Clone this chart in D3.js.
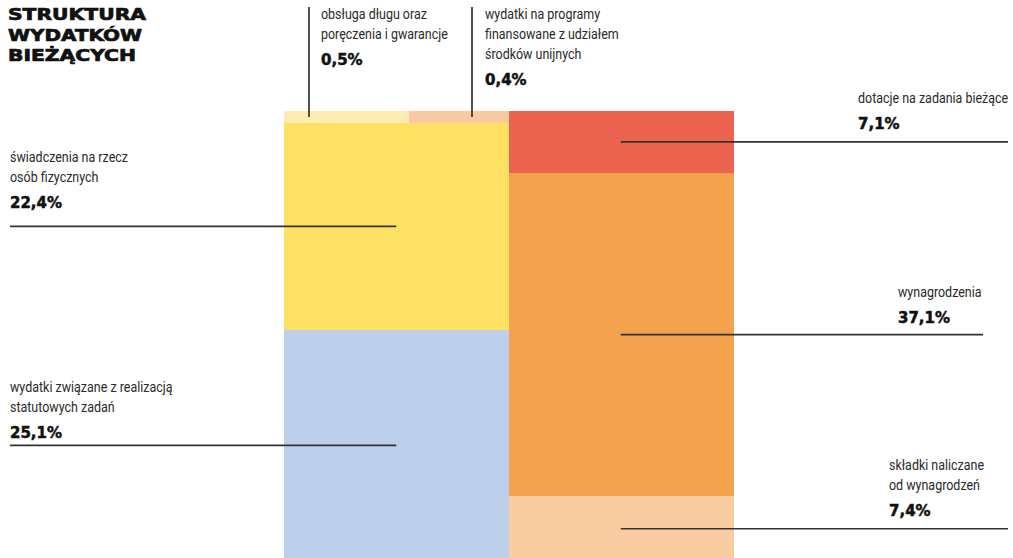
<!DOCTYPE html>
<html><head><meta charset="utf-8">
<script src="https://cdn.jsdelivr.net/npm/d3@7"></script>
<style>body{margin:0;background:#fff;} svg{display:block;}</style>
</head><body><svg id="c" width="1013" height="558"></svg>
<script>
// ---- data ----
const titleLines = ["STRUKTURA", "WYDATKÓW", "BIEŻĄCYCH"];
const categories = [
  "obsługa długu oraz|poręczenia i gwarancje",
  "wydatki na programy|finansowane z udziałem|środków unijnych",
  "świadczenia na rzecz|osób fizycznych",
  "wydatki związane z realizacją|statutowych zadań",
  "dotacje na zadania bieżące",
  "wynagrodzenia",
  "składki naliczane|od wynagrodzeń"
];
const values   = [0.5, 0.4, 22.4, 25.1, 7.1, 37.1, 7.4];
const columnOf = [0, 0, 0, 0, 1, 1, 1];
const rowOf    = [0, 0, 1, 2, 0, 1, 2];

// ---- styles / layout ----
const palette = ["#FEEBB2", "#F9CAA1", "#FEE163", "#BCD0EB", "#EC6350", "#F5A24E", "#F9CCA2"];
const chart = {x0: 284, x1: 733, y0: 111, y1: 561, minRow: 12};
const titleWidths = [138, 134, 128];
const notes = [
  {side: "top",   lineX: 309, tx: 321, ty: 19},
  {side: "top",   lineX: 472, tx: 485, ty: 19},
  {side: "left",  tx: 10,  ty: 162},
  {side: "left",  tx: 10,  ty: 392},
  {side: "right", tx: 858, ty: 103, end: 1008},
  {side: "right", tx: 898, ty: 297, end: 983},
  {side: "right", tx: 889, ty: 470, end: 1008}
];
const labelFont = "Roboto, 'Liberation Sans', sans-serif";

const svg = d3.select("#c");
const color = d3.scaleOrdinal(categories, palette);
const fmt = v => d3.format(".1f")(v).replace(".", ",") + "%";

// condense factor for labels (reference line "świadczenia na rzecz" ≈ 118px wide)
const probe = svg.append("text").style("font-family", labelFont).style("font-size", "15px")
  .text("świadczenia na rzecz");
const condense = 118 / probe.node().getComputedTextLength();
probe.remove();

const items = categories.map((c, i) => ({i, c, v: values[i], col: columnOf[i], row: rowOf[i]}));
const xCol = d3.scaleBand().domain([0, 1]).range([chart.x0, chart.x1]);

// layout each column
d3.groups(items, d => d.col).forEach(([col, its]) => {
  const rows = d3.groups(its, d => d.row).sort((a, b) => a[0] - b[0]);
  const sums = rows.map(r => d3.sum(r[1], d => d.v));
  const total = d3.sum(sums);
  const H = chart.y1 - chart.y0;
  let hs = sums.map(s => s / total * H);
  const small = hs.map(h => h < chart.minRow);
  const fixed = d3.sum(hs, (h, k) => small[k] ? chart.minRow : 0);
  const freeSum = d3.sum(sums.filter((s, k) => !small[k]));
  const yFree = d3.scaleLinear([0, freeSum], [0, H - fixed]);
  hs = sums.map((s, k) => small[k] ? chart.minRow : yFree(s));
  let y = chart.y0;
  rows.forEach(([r, ri], k) => {
    const xs = d3.scaleLinear([0, sums[k]], [xCol(col), xCol(col) + xCol.bandwidth()]);
    let acc = 0;
    ri.forEach(d => {
      d.x0 = xs(acc); acc += d.v; d.x1 = xs(acc);
      d.y0 = y; d.y1 = y + hs[k];
    });
    y += hs[k];
  });
});

svg.append("g").attr("shape-rendering", "crispEdges")
  .selectAll("rect").data(items).join("rect")
  .attr("x", d => d.x0).attr("y", d => d.y0)
  .attr("width", d => d.x1 - d.x0 + 0.5).attr("height", d => d.y1 - d.y0 + 0.5)
  .attr("fill", d => color(d.c));

// title
svg.append("g").selectAll("text").data(titleLines).join("text")
  .attr("x", 8).attr("y", (d, i) => 20 + i * 20.5)
  .attr("textLength", (d, i) => titleWidths[i]).attr("lengthAdjust", "spacingAndGlyphs")
  .style("font-family", "'DejaVu Sans', sans-serif").style("font-weight", "bold")
  .style("font-size", "15.5px").attr("fill", "#111")
  .attr("stroke", "#111").attr("stroke-width", 0.7).text(d => d);

// annotations
const g = svg.append("g");
items.forEach(d => {
  const n = notes[d.i];
  const cy = (d.y0 + d.y1) / 2;
  const cx = xCol(d.col) + xCol.bandwidth() / 2;
  let x1, y1, x2, y2;
  if (n.side === "top") { x1 = x2 = n.lineX; y1 = 7; y2 = cy; }
  else if (n.side === "left") { x1 = n.tx; x2 = cx; y1 = y2 = cy; }
  else { x1 = cx; x2 = n.end; y1 = y2 = cy; }
  g.append("line").attr("x1", x1).attr("x2", x2).attr("y1", y1).attr("y2", y2)
    .attr("stroke", "#333").attr("stroke-width", 1.7);
  const lines = d.c.split("|");
  lines.forEach((l, k) => {
    const t = g.append("text").attr("x", n.tx).attr("y", n.ty + k * 20)
      .style("font-family", labelFont).style("font-size", "15px").attr("fill", "#2a2a2a").text(l);
    const len = t.node().getComputedTextLength();
    t.attr("textLength", len * condense).attr("lengthAdjust", "spacingAndGlyphs");
  });
  g.append("text").attr("x", n.tx).attr("y", n.ty + (lines.length - 1) * 20 + 25.5)
    .style("font-family", "'DejaVu Sans', sans-serif").style("font-weight", "bold")
    .style("font-size", "15px").attr("fill", "#111")
    .attr("stroke", "#111").attr("stroke-width", 0.5).text(fmt(d.v));
});
</script></body></html>
